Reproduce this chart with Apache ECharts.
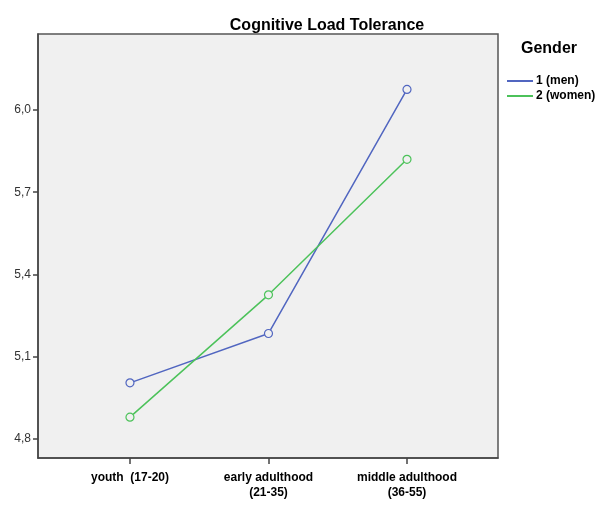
<!DOCTYPE html>
<html>
<head>
<meta charset="utf-8">
<script src="https://cdn.jsdelivr.net/npm/echarts@6/dist/echarts.min.js"></script>
<style>
html,body{margin:0;padding:0;background:#fff;}
#c{width:611px;height:508px;}
</style>
</head>
<body>
<div id="c"></div>
<script>
const categories = ['youth  (17-20)', 'early adulthood\n(21-35)', 'middle adulthood\n(36-55)'];
const menValues = [5.005, 5.185, 6.075];
const womenValues = [4.880, 5.326, 5.820];
const yTicks = [4.8, 5.1, 5.4, 5.7, 6.0];
const seriesNames = ['1 (men)', '2 (women)'];

const menColor = '#5166c0';
const womenColor = '#4cc25a';

const chart = echarts.init(document.getElementById('c'), null, {renderer: 'canvas'});
const toPairs = arr => arr.map((v, i) => [i, v]);
const font = 'Liberation Sans, Arial, sans-serif';

chart.setOption({
  animation: false,
  backgroundColor: '#ffffff',
  title: {
    text: 'Cognitive Load Tolerance',
    left: 322, top: 13, textAlign: 'center',
    textStyle: {fontFamily: font, fontSize: 16, fontWeight: 'bold', color: '#000'}
  },
  graphic: [{
    type: 'text', left: 521, top: 41,
    style: {text: 'Gender', font: 'bold 16px ' + font, fill: '#000'}
  }],
  legend: {
    orient: 'vertical', left: 502, top: 70, itemGap: 3,
    itemWidth: 26, itemHeight: 14,
    icon: 'path://M0,6 L26,6 L26,8 L0,8 Z',
    textStyle: {fontFamily: font, fontSize: 12, fontWeight: 'bold', color: '#000', padding: [0, 0, 0, -2]},
    data: [
      {name: seriesNames[0], itemStyle: {color: menColor, borderWidth: 0}},
      {name: seriesNames[1], itemStyle: {color: womenColor, borderWidth: 0}}
    ]
  },
  grid: {
    left: 38, top: 34, width: 460, height: 424,
    show: true, backgroundColor: '#f0f0f0', borderColor: '#555', borderWidth: 1.5
  },
  xAxis: {
    type: 'value', min: -0.664, max: 2.657,
    splitLine: {show: false},
    axisLine: {show: true, onZero: false, lineStyle: {color: '#444', width: 1.5}},
    axisTick: {show: true, customValues: [0, 1, 2], length: 6, lineStyle: {color: '#444', width: 1.5}},
    axisLabel: {
      customValues: [0, 1, 2], margin: 12,
      formatter: v => categories[Math.round(v)],
      fontFamily: font, fontSize: 12, fontWeight: 'bold', color: '#000', lineHeight: 15
    }
  },
  yAxis: {
    type: 'value', min: 4.731, max: 6.277,
    splitLine: {show: false},
    axisLine: {show: true, onZero: false, lineStyle: {color: '#444', width: 1.5}},
    axisTick: {show: true, customValues: yTicks, length: 5, lineStyle: {color: '#444', width: 1.5}},
    axisLabel: {
      customValues: yTicks, margin: 7,
      formatter: v => v.toFixed(1).replace('.', ','),
      fontFamily: font, fontSize: 12, color: '#333'
    }
  },
  series: [
    {
      name: seriesNames[0], type: 'line', data: toPairs(menValues),
      symbol: 'circle', symbolSize: 8,
      lineStyle: {color: menColor, width: 1.5},
      itemStyle: {color: '#f0f0f0', borderColor: menColor, borderWidth: 1.2}
    },
    {
      name: seriesNames[1], type: 'line', data: toPairs(womenValues),
      symbol: 'circle', symbolSize: 8,
      lineStyle: {color: womenColor, width: 1.5},
      itemStyle: {color: '#f0f0f0', borderColor: womenColor, borderWidth: 1.2}
    }
  ]
});
</script>
</body>
</html>
